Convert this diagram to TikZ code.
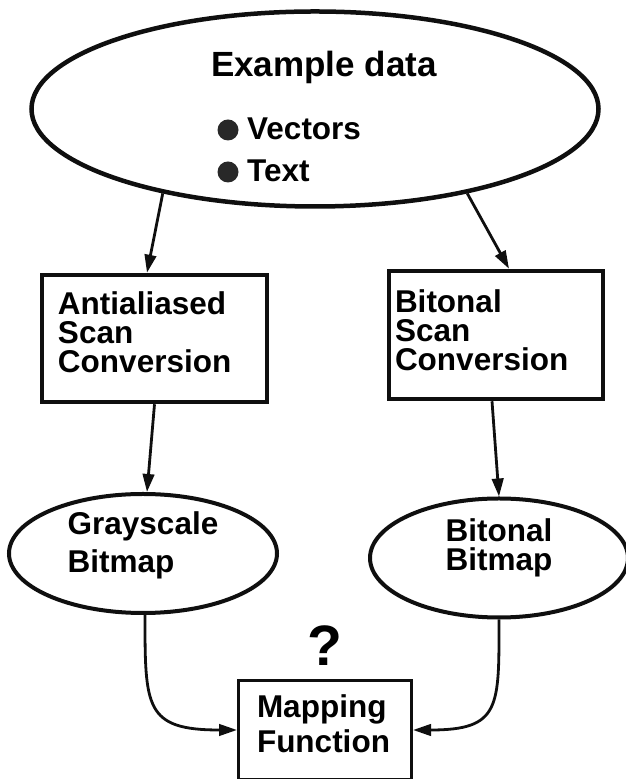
\documentclass[tikz,border=0pt]{standalone}
\usepackage{fontspec}
\setmainfont{Liberation Sans}
\usetikzlibrary{arrows.meta,positioning,shapes.geometric}
\definecolor{flowInk}{RGB}{15,15,15}
\definecolor{flowDot}{RGB}{40,40,40}

\begin{document}
\begin{tikzpicture}[x=1bp, y=1bp,
    font=\bfseries\fontsize{31.5bp}{29bp}\selectfont,
    oval/.style={ellipse, draw=flowInk, line width=4bp, inner sep=0pt, align=left},
    scanbox/.style={rectangle, draw=flowInk, line width=4.5bp, inner ysep=0pt, align=left,
                    text height=22.6bp},
    bulletdot/.style={circle, fill=flowDot, inner sep=0pt, minimum size=21bp},
    flow/.style={draw=flowInk, line width=2.8bp, -{Triangle[length=18bp,width=11.5bp]}}]
  \useasboundingbox (0,0) rectangle (626,779);

  \node[oval, line width=4.5bp, minimum width=567bp, minimum height=195bp] (data) at (315,670) {};
  \node[anchor=base, inner sep=0pt, font=\bfseries\fontsize{35bp}{35bp}\selectfont]
    (datatitle) at (324,702) {Example data};
  \node[bulletdot] (vecdot) at (228,649) {};
  \node[anchor=base west, inner sep=0pt] (vectors) at (247,639) {Vectors};
  \node[bulletdot] (txtdot) at (228,607) {};
  \node[anchor=base west, inner sep=0pt] (textitem) at (247,597) {Text};

  \node[scanbox, text width=193bp, inner xsep=16bp, minimum height=127bp, text depth=69.6bp]
    (aaconv) at (154.5,440.5) {Antialiased\\Scan\\Conversion};
  \node[scanbox, text width=202bp, inner xsep=6bp, minimum height=128bp, text depth=66.6bp]
    (btconv) at (496,444) {Bitonal\\Scan\\Conversion};

  \node[oval, minimum width=268bp, minimum height=119bp, text depth=22.6bp]
    (graymap) at (143,225.5) {Grayscale\\[8bp]Bitmap};
  \node[oval, minimum width=258bp, minimum height=119bp, text depth=26.6bp]
    (btmap) at (499,221) {Bitonal\\Bitmap};

  \node[scanbox, line width=3bp, text width=136bp, inner xsep=18.5bp,
        minimum height=98bp, text depth=46.6bp]
    (mapfn) at (325,49) {Mapping\\[4bp]Function};
  \node[inner sep=0pt, font=\bfseries\fontsize{57bp}{57bp}\selectfont, above=14bp of mapfn]
    (qmark) {?};

  \draw[flow] (data.209) -- ([xshift=-7.5bp]aaconv.north);
  \draw[flow] (data.331) -- ([xshift=13bp]btconv.north);
  \draw[flow] (aaconv.south) -- ([xshift=4bp]graymap.north);
  \draw[flow] ([xshift=-4bp]btconv.south) -- (btmap.north);
  \draw[flow] ([xshift=2bp]graymap.south) to[out=-90, in=180, looseness=1.6] (mapfn.west);
  \draw[flow] (btmap.south) to[out=-90, in=0, looseness=1.6] (mapfn.east);
\end{tikzpicture}
\end{document}
